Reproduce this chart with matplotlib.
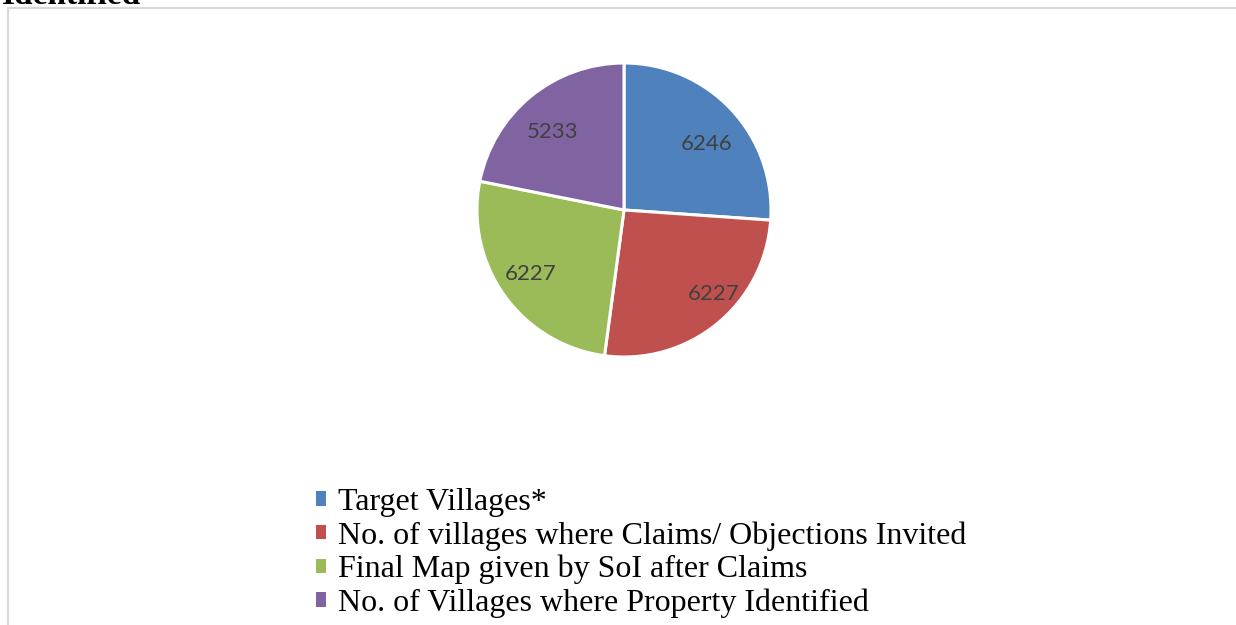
import matplotlib
matplotlib.use("Agg")
import matplotlib.pyplot as plt
from matplotlib.patches import Rectangle
from matplotlib.lines import Line2D
from matplotlib.transforms import offset_copy

categories = [
    "Target Villages*",
    "No. of villages where Claims/ Objections Invited",
    "Final Map given by SoI after Claims",
    "No. of Villages where Property Identified",
]
values = [6246, 6227, 6227, 5233]
colors = ["#4F81BD", "#C0504D", "#9BBB59", "#8064A2"]
# small pixel nudges of the value labels (right, down) to mimic the original placement
label_nudges = [(0, 9), (18, -6), (-1, -4), (0, 8)]

W, H = 1236, 625
fig = plt.figure(figsize=(W / 100, H / 100), dpi=100)
fig.patch.set_facecolor("white")

# outer chart border (light gray), partially cropped
border = Line2D([8 / W, 8 / W, 1.01], [-0.01, 1 - 8 / H, 1 - 8 / H],
                transform=fig.transFigure, color="#d9d9d9", lw=1.6)
fig.add_artist(border)

# cropped title text at top
fig.text(2 / W, 1 - 4 / H, "Identified", fontfamily="Liberation Serif",
         fontweight="bold", fontsize=24, va="baseline", ha="left", color="black")

cx, cy, r = 624, 210, 147
ax = fig.add_axes([(cx - r) / W, (H - cy - r) / H, 2 * r / W, 2 * r / H])
wedges, texts, autotexts = ax.pie(
    values, colors=colors, startangle=90, counterclock=False,
    autopct=lambda p: f"{p * sum(values) / 100:.0f}", pctdistance=0.77,
    wedgeprops=dict(edgecolor="white", linewidth=2.2),
    textprops=dict(fontfamily="Lato", fontsize=16, color="#404040"),
)
for t, (dx, dy) in zip(autotexts, label_nudges):
    t.set_va("center_baseline")
    t.set_transform(offset_copy(ax.transData, fig=fig, x=dx, y=-dy, units="dots"))
ax.set_xlim(-1.0, 1.0)
ax.set_ylim(-1.0, 1.0)
ax.set_aspect("equal")
ax.axis("off")

handles = [Rectangle((0, 0), 1, 1, facecolor=c, edgecolor="none") for c in colors]
leg = fig.legend(handles, categories, loc="upper left",
                 bbox_to_anchor=(316 / W, 1 - 488 / H),
                 frameon=False, prop=dict(family="Liberation Serif", size=23),
                 handlelength=0.32, handleheight=0.32, handletextpad=0.38,
                 labelspacing=0.13, borderpad=0, borderaxespad=0)

fig.savefig("out.png", dpi=100, facecolor="white")
